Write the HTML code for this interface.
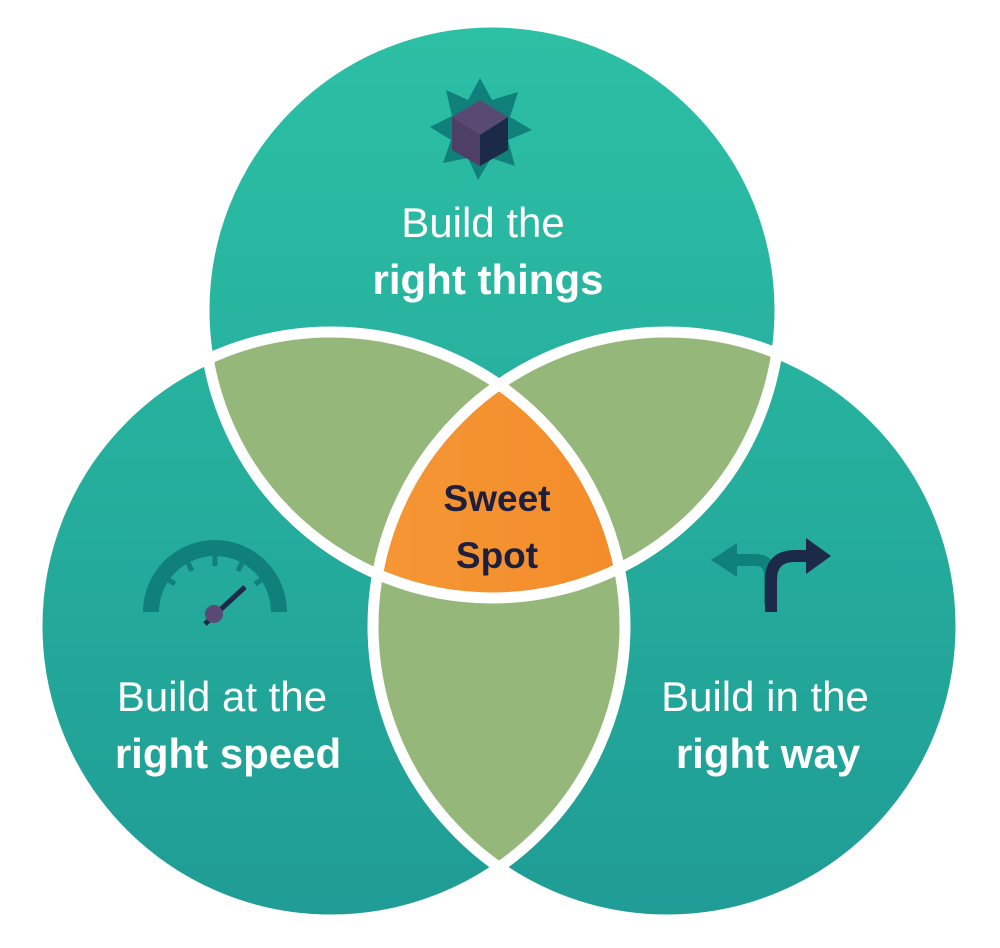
<!DOCTYPE html>
<html><head><meta charset="utf-8"><style>
html,body{margin:0;padding:0;background:#fff;}
svg{display:block;}
text{font-family:"Liberation Sans",sans-serif;}
</style></head><body>
<svg width="1000" height="948" viewBox="0 0 1000 948" xmlns="http://www.w3.org/2000/svg">
<defs>
<linearGradient id="tg" gradientUnits="userSpaceOnUse" x1="0" y1="20" x2="0" y2="930">
<stop offset="0" stop-color="#2cc0a5"/><stop offset="1" stop-color="#1f9c95"/></linearGradient>
<linearGradient id="og" x1="0" y1="0" x2="1" y2="0"><stop offset="0" stop-color="#f8a440"/><stop offset="1" stop-color="#f38c2b"/></linearGradient>
<clipPath id="cT"><circle cx="492" cy="310" r="288"/></clipPath>
<clipPath id="cL"><circle cx="331" cy="626" r="294"/></clipPath>
<clipPath id="cR"><circle cx="667" cy="626" r="294"/></clipPath>
</defs>
<g fill="none" stroke="#fff" stroke-width="30">
<circle cx="492" cy="310" r="288"/><circle cx="331" cy="626" r="294"/><circle cx="667" cy="626" r="294"/>
</g>
<g fill="url(#tg)">
<circle cx="492" cy="310" r="288"/><circle cx="331" cy="626" r="294"/><circle cx="667" cy="626" r="294"/>
</g>
<g fill="#95b779">
<circle cx="331" cy="626" r="294" clip-path="url(#cT)"/>
<circle cx="667" cy="626" r="294" clip-path="url(#cT)"/>
<circle cx="667" cy="626" r="294" clip-path="url(#cL)"/>
</g>
<g clip-path="url(#cT)"><circle cx="331" cy="626" r="294" fill="url(#og)" clip-path="url(#cR)"/></g>
<g fill="none" stroke="#fff" stroke-width="11">
<circle cx="492" cy="310" r="288"/><circle cx="331" cy="626" r="294"/><circle cx="667" cy="626" r="294"/>
</g>
<!-- star cube -->
<polygon fill="#0f807a" points="480,78 492,100 518,92 510,117 532,130 508,140 515,166 491,158 478,180 468,158 443,163 451,140 430,127 452,116 446,90 468,100"/>
<polygon fill="#594a73" points="480,100 508,117 480,135 452,117"/>
<polygon fill="#4e3f67" points="452,117 480,135 480,166 452,150"/>
<polygon fill="#1a2a48" points="508,117 480,135 480,166 508,150"/>
<!-- gauge -->
<path d="M143,612 A72,72 0 0 1 287,612 L271,612 A56,56 0 0 0 159,612 Z" fill="#0f807a"/>
<g stroke="#0f807a" stroke-width="5">
<line x1="215" y1="555" x2="215" y2="566"/><line x1="187" y1="561" x2="192" y2="571"/><line x1="243" y1="561" x2="238" y2="571"/>
<line x1="166" y1="578" x2="175" y2="584"/><line x1="264" y1="578" x2="255" y2="584"/>
</g>
<line x1="205" y1="624" x2="245" y2="587" stroke="#1a2a48" stroke-width="5"/>
<circle cx="214" cy="614" r="9" fill="#594a73"/>
<!-- arrows -->
<path d="M770,605 L770,575 Q770,560 755,560 L735,560" fill="none" stroke="#0f807a" stroke-width="12"/>
<polygon points="711,560 737,543 737,577" fill="#0f807a"/>
<path d="M771,612 L771,580 Q771,556 795,556 L808,556" fill="none" stroke="#1a2a48" stroke-width="12"/>
<polygon points="831,556 806,538 806,574" fill="#1a2a48"/>
<!-- text -->
<g fill="#fff" font-size="42" text-anchor="middle">
<text x="483" y="237">Build the</text>
<text x="488" y="294" font-weight="bold">right things</text>
<text x="222" y="711">Build at the</text>
<text x="228" y="768" font-weight="bold">right speed</text>
<text x="765" y="711">Build in the</text>
<text x="768" y="768" font-weight="bold">right way</text>
</g>
<g fill="#1e1f3d" font-size="37" font-weight="bold" text-anchor="middle">
<text x="497" y="511">Sweet</text>
<text x="497" y="568">Spot</text>
</g>
</svg>
</body></html>
